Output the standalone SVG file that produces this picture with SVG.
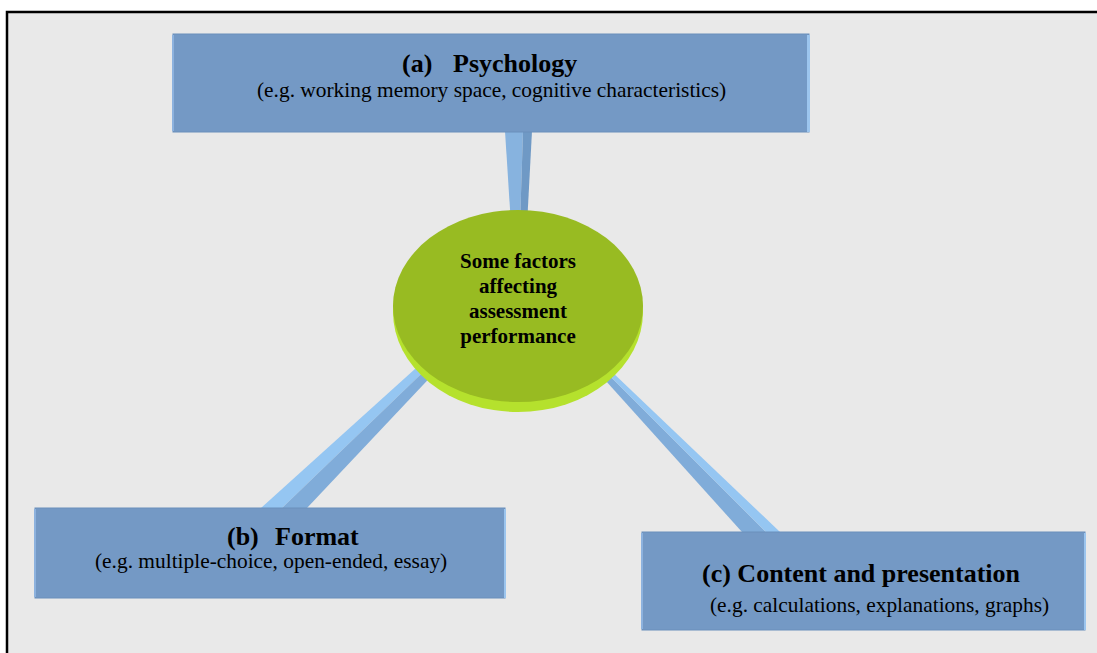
<svg xmlns="http://www.w3.org/2000/svg" width="1097" height="653" viewBox="0 0 1097 653">
<style>
.box{fill:#7499c5;stroke:#6a8fbb;stroke-width:1}
.hl{fill:#8db2de}
.hr{fill:#9cc5ee}
.t{font-family:"Liberation Serif","Times New Roman",serif;fill:#000}
.ti{font-size:26px;font-weight:bold}
.st{font-size:21.4px}
.ct{font-size:21px;font-weight:bold;text-anchor:middle}
.cl{fill:#95c6f2}
.cd{fill:#80acd9}
.tl{fill:#87b3df}
.td{fill:#6f99c5}
</style>
<rect x="0" y="0" width="1097" height="653" fill="#ffffff"/>
<rect x="7" y="12" width="1100" height="660" fill="#e9e9e9" stroke="#000" stroke-width="2.5"/>
<g id="connectors">
  <polygon class="tl" points="505,131 523,131 520,225 511,225"/>
  <polygon class="td" points="523,131 532,131 527,225 520,225"/>
  <polygon class="cl" points="261,508 282,508 446,350 436,350"/>
  <polygon class="cd" points="282,508 307,508 456,350 446,350"/>
  <polygon class="cd" points="742,532 766,532 584,350 578,350"/>
  <polygon class="cl" points="766,532 780,532 589,350 584,350"/>
</g>
<g id="center">
  <ellipse cx="518" cy="312" rx="125" ry="100" fill="#b5e12d"/>
  <ellipse cx="518" cy="306" rx="125" ry="96" fill="#98bb22"/>
  <text class="t ct" x="518" y="268">Some factors</text>
  <text class="t ct" x="518" y="293">affecting</text>
  <text class="t ct" x="518" y="318">assessment</text>
  <text class="t ct" x="518" y="343">performance</text>
</g>
<g id="psychology">
  <rect class="box" x="173" y="34" width="636" height="98"/>
  <rect class="hl" x="172" y="35" width="2" height="96"/>
  <rect class="hr" x="807" y="35" width="3" height="97"/>
  <text class="t ti" y="72"><tspan x="402">(a)</tspan><tspan x="453">Psychology</tspan></text>
  <text class="t st" x="257" y="97">(e.g. working memory space, cognitive characteristics)</text>
</g>
<g id="format">
  <rect class="box" x="35" y="508" width="470" height="90"/>
  <rect class="hl" x="34" y="509" width="2" height="88"/>
  <rect class="hr" x="504" y="509" width="2" height="89"/>
  <text class="t ti" y="545"><tspan x="227">(b)</tspan><tspan x="275">Format</tspan></text>
  <text class="t st" x="95" y="568">(e.g. multiple-choice, open-ended, essay)</text>
</g>
<g id="content">
  <rect class="box" x="642" y="532" width="443" height="98"/>
  <rect class="hl" x="641" y="533" width="2" height="96"/>
  <rect class="hr" x="1084" y="533" width="2" height="97"/>
  <text class="t ti" x="702" y="582">(c) Content and presentation</text>
  <text class="t st" x="710" y="612">(e.g. calculations, explanations, graphs)</text>
</g>
</svg>
